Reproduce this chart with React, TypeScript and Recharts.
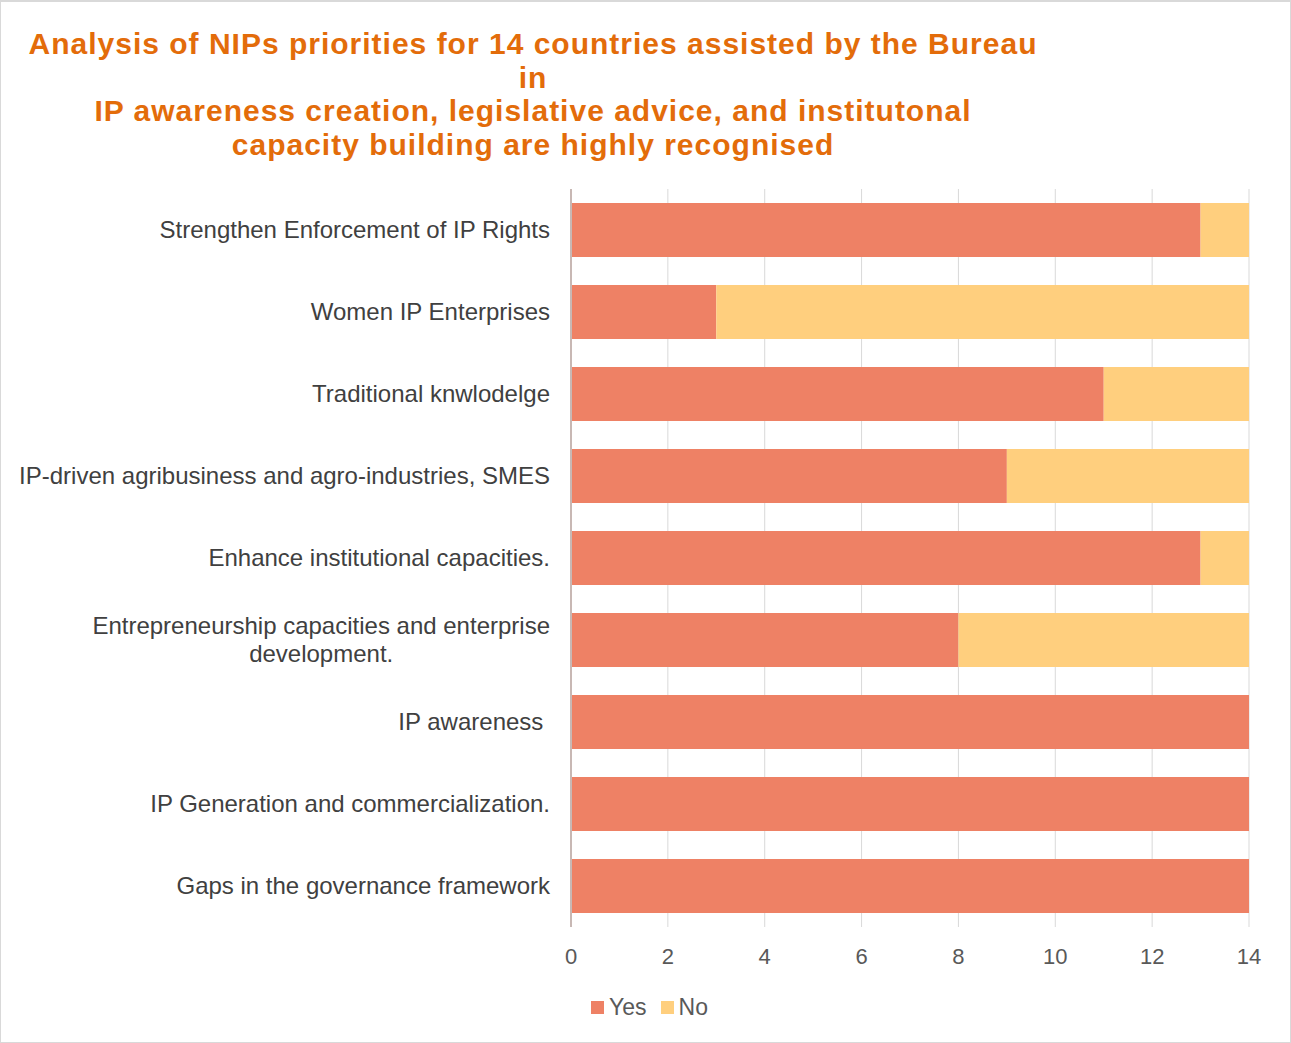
import { Bar, BarChart, CartesianGrid, XAxis, YAxis } from "recharts";

const categories = [
  "Strengthen Enforcement of IP Rights",
  "Women IP Enterprises",
  "Traditional knwlodelge",
  "IP-driven agribusiness and agro-industries, SMES",
  "Enhance institutional capacities.",
  "Entrepreneurship capacities and enterprise\ndevelopment.",
  "IP awareness ",
  "IP Generation and commercialization.",
  "Gaps in the governance framework",
];
const yesValues = [13, 3, 11, 9, 13, 8, 14, 14, 14];
const noValues = [1, 11, 3, 5, 1, 6, 0, 0, 0];
const xTicks = [0, 2, 4, 6, 8, 10, 12, 14];

const COLORS = {
  yes: "#EE8165",
  no: "#FFCF7E",
  title: "#E36C0A",
  label: "#404040",
  axis: "#595959",
  grid: "#D9D9D9",
};

const FONT = '"Liberation Sans", Arial, sans-serif';
const LABEL_SIZE = 24;

const chartData = categories.map((name, i) => ({
  name,
  yes: yesValues[i],
  no: noValues[i],
}));

function measure(text: string) {
  const ctx = document.createElement("canvas").getContext("2d");
  if (!ctx) return text.length * 11;
  ctx.font = `${LABEL_SIZE}px "Liberation Sans"`;
  return ctx.measureText(text).width;
}

function CategoryTick(props: any) {
  const { x, y, payload } = props;
  const lines: string[] = String(payload.value).split("\n");
  const right = x - 13;
  if (lines.length === 1) {
    return (
      <text
        x={right}
        y={y}
        dy={8}
        textAnchor="end"
        fill={COLORS.label}
        fontSize={LABEL_SIZE}
        fontFamily={FONT}
        style={{ whiteSpace: "pre" }}
      >
        {lines[0]}
      </text>
    );
  }
  const w = Math.max(...lines.map(measure));
  const cx = right - w / 2;
  return (
    <text textAnchor="middle" fill={COLORS.label} fontSize={LABEL_SIZE} fontFamily={FONT}>
      {lines.map((line, i) => (
        <tspan key={i} x={cx} y={y + 8 + (i - (lines.length - 1) / 2) * 28}>
          {line}
        </tspan>
      ))}
    </text>
  );
}

export default function App() {
  return (
    <div
      style={{
        position: "absolute",
        left: 0,
        top: 0,
        width: 1291,
        height: 1043,
        boxSizing: "border-box",
        border: "1px solid #D9D9D9",
        borderTopWidth: 2,
        background: "#fff",
        fontFamily: FONT,
      }}
    >
      <div
        style={{
          position: "absolute",
          left: 0,
          top: 25,
          width: 1064,
          textAlign: "center",
          color: COLORS.title,
          fontWeight: "bold",
          fontSize: 30,
          lineHeight: "33.7px",
          letterSpacing: 1,
        }}
      >
        Analysis of NIPs priorities for 14 countries assisted by the Bureau
        <br />
        in
        <br />
        IP awareness creation, legislative advice, and institutonal
        <br />
        capacity building are highly recognised
      </div>
      <div style={{ position: "absolute", left: -1, top: -2 }}>
        <BarChart
          width={1291}
          height={1043}
          data={chartData}
          layout="vertical"
          barSize={54}
          margin={{ top: 189, right: 42, left: 0, bottom: 76 }}
        >
          <CartesianGrid horizontal={false} stroke={COLORS.grid} strokeWidth={1} />
          <XAxis
            type="number"
            domain={[0, 14]}
            ticks={xTicks}
            axisLine={false}
            tickLine={false}
            tick={{ fill: COLORS.axis, fontSize: 22, fontFamily: FONT }}
            tickMargin={15}
            height={40}
          />
          <YAxis
            type="category"
            dataKey="name"
            width={571}
            axisLine={{ stroke: "#C8B8B4", strokeWidth: 2 }}
            tickLine={false}
            tick={<CategoryTick />}
            interval={0}
          />
          <Bar dataKey="yes" name="Yes" stackId="a" fill={COLORS.yes} isAnimationActive={false} />
          <Bar dataKey="no" name="No" stackId="a" fill={COLORS.no} isAnimationActive={false} />
        </BarChart>
      </div>
      <div
        style={{
          position: "absolute",
          top: 990,
          left: 590,
          display: "flex",
          alignItems: "center",
          fontSize: 23,
          lineHeight: "30px",
          color: COLORS.axis,
        }}
      >
        <span style={{ width: 13, height: 13, background: COLORS.yes, marginRight: 5 }} />
        <span style={{ marginRight: 14 }}>Yes</span>
        <span style={{ width: 13, height: 13, background: COLORS.no, marginRight: 5 }} />
        <span>No</span>
      </div>
    </div>
  );
}
